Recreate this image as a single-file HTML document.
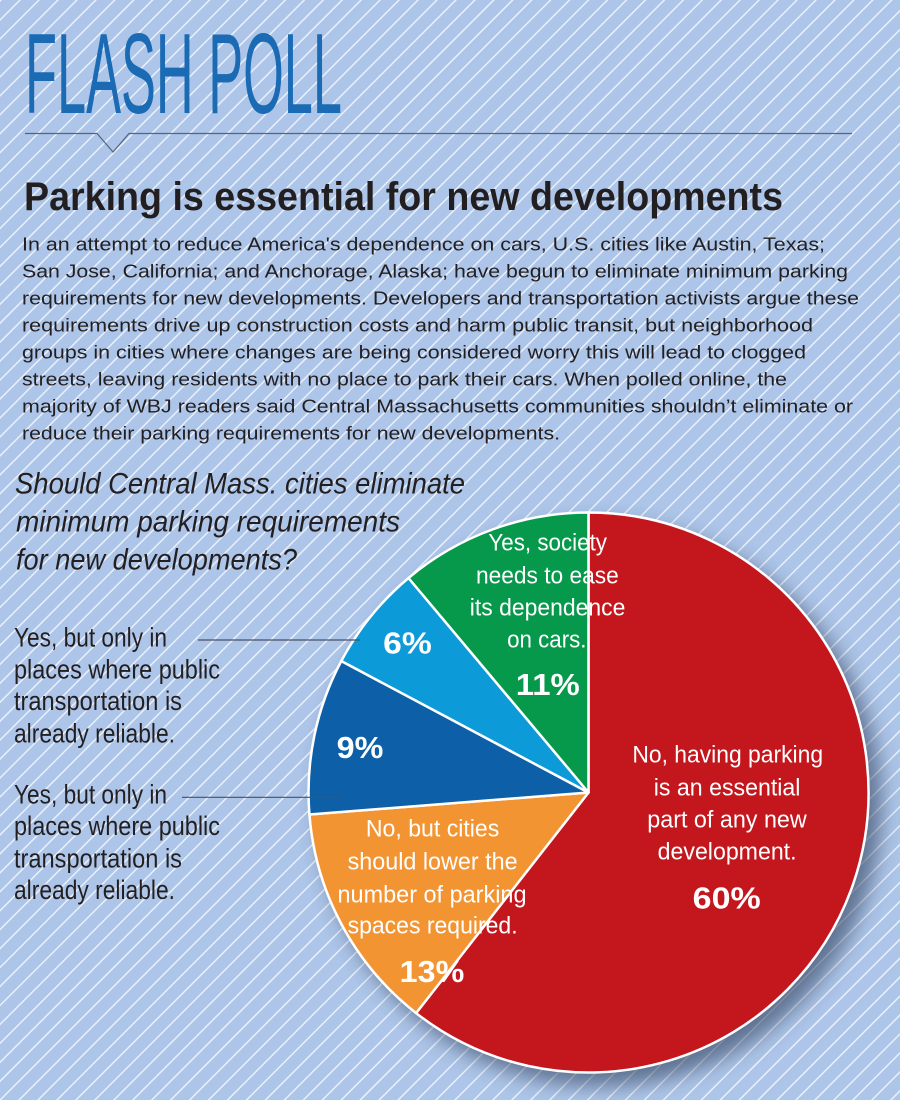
<!DOCTYPE html>
<html>
<head>
<meta charset="utf-8">
<style>
  html,body{margin:0;padding:0;background:#adc5e8;}
  svg{display:block;}
</style>
</head>
<body>
<svg width="900" height="1100" viewBox="0 0 900 1100" xmlns="http://www.w3.org/2000/svg">
  <defs>
    <pattern id="stripes" patternUnits="userSpaceOnUse" width="13.4" height="20" patternTransform="rotate(45)">
      <rect x="0" y="0" width="13.4" height="20" fill="#adc5e8"/>
      <rect x="0" y="0" width="1.5" height="20" fill="#e9f0fb"/>
    </pattern>
    <filter id="shadow" x="-20%" y="-20%" width="140%" height="140%">
      <feGaussianBlur stdDeviation="10"/>
    </filter>
  </defs>

  <rect x="0" y="0" width="900" height="1100" fill="url(#stripes)"/>

  <!-- Title -->
  <text x="25" y="113" font-family="'Liberation Sans Narrow','Liberation Sans',sans-serif" font-size="114" fill="#1a6ab4" textLength="317" lengthAdjust="spacingAndGlyphs">FLASH POLL</text>

  <!-- Rule with notch -->
  <polyline points="25,133.5 97,133.5 113,152 129,133.5 852,133.5" fill="none" stroke="#56657a" stroke-width="1.2"/>

  <!-- Heading -->
  <text x="24" y="210" font-family="'Liberation Sans Narrow','Liberation Sans',sans-serif" font-weight="bold" font-size="40" fill="#231f20" textLength="759" lengthAdjust="spacingAndGlyphs">Parking is essential for new developments</text>

  <!-- Paragraph -->
  <g font-family="'Liberation Sans',sans-serif" font-size="18" fill="#231f20">
    <text x="22" y="250.7" textLength="803" lengthAdjust="spacingAndGlyphs">In an attempt to reduce America's dependence on cars, U.S. cities like Austin, Texas;</text>
    <text x="22" y="277.7" textLength="826" lengthAdjust="spacingAndGlyphs">San Jose, California; and Anchorage, Alaska; have begun to eliminate minimum parking</text>
    <text x="22" y="304.7" textLength="837" lengthAdjust="spacingAndGlyphs">requirements for new developments. Developers and transportation activists argue these</text>
    <text x="22" y="331.7" textLength="791" lengthAdjust="spacingAndGlyphs">requirements drive up construction costs and harm public transit, but neighborhood</text>
    <text x="22" y="358.7" textLength="784" lengthAdjust="spacingAndGlyphs">groups in cities where changes are being considered worry this will lead to clogged</text>
    <text x="22" y="385.7" textLength="765" lengthAdjust="spacingAndGlyphs">streets, leaving residents with no place to park their cars. When polled online, the</text>
    <text x="22" y="412.7" textLength="831" lengthAdjust="spacingAndGlyphs">majority of WBJ readers said Central Massachusetts communities shouldn’t eliminate or</text>
    <text x="22" y="439.7" textLength="538" lengthAdjust="spacingAndGlyphs">reduce their parking requirements for new developments.</text>
  </g>

  <!-- Question -->
  <g font-family="'Liberation Sans Narrow','Liberation Sans',sans-serif" font-style="italic" font-size="30" fill="#231f20">
    <text x="15" y="493.3" textLength="450" lengthAdjust="spacingAndGlyphs">Should Central Mass. cities eliminate</text>
    <text x="16" y="531.5" textLength="384" lengthAdjust="spacingAndGlyphs">minimum parking requirements</text>
    <text x="16" y="569.5" textLength="281" lengthAdjust="spacingAndGlyphs">for new developments?</text>
  </g>

  <!-- Pie shadow -->
  <circle cx="600" cy="805" r="281" fill="#2a3b58" opacity="0.6" filter="url(#shadow)"/>

  <!-- Pie slices -->
  <g stroke="#ffffff" stroke-width="2.5" stroke-linejoin="round">
    <path d="M588.5,792.5 L588.5,512.5 A280,280 0 1 1 416.1,1013.1 Z" fill="#c4161d"/>
    <path d="M588.5,792.5 L416.1,1013.1 A280,280 0 0 1 309.4,814.5 Z" fill="#f39433"/>
    <path d="M588.5,792.5 L309.4,814.5 A280,280 0 0 1 341.3,661.0 Z" fill="#0d60a8"/>
    <path d="M588.5,792.5 L341.3,661.0 A280,280 0 0 1 408.5,578.0 Z" fill="#0c9ad9"/>
    <path d="M588.5,792.5 L408.5,578.0 A280,280 0 0 1 588.5,512.5 Z" fill="#06994b"/>
  </g>

  <!-- Leader lines -->
  <line x1="198" y1="640" x2="360" y2="640" stroke="#4a5263" stroke-width="1.2"/>
  <line x1="182" y1="797.3" x2="343" y2="797.3" stroke="#4a5263" stroke-width="1.2"/>

  <!-- Left labels -->
  <g font-family="'Liberation Sans Narrow','Liberation Sans',sans-serif" font-size="27" fill="#231f20">
    <text x="14" y="646.7" textLength="153" lengthAdjust="spacingAndGlyphs">Yes, but only in</text>
    <text x="14" y="678.3" textLength="206" lengthAdjust="spacingAndGlyphs">places where public</text>
    <text x="14" y="710" textLength="168" lengthAdjust="spacingAndGlyphs">transportation is</text>
    <text x="14" y="742.7" textLength="161" lengthAdjust="spacingAndGlyphs">already reliable.</text>

    <text x="14" y="803.3" textLength="153" lengthAdjust="spacingAndGlyphs">Yes, but only in</text>
    <text x="14" y="835" textLength="206" lengthAdjust="spacingAndGlyphs">places where public</text>
    <text x="14" y="867.3" textLength="168" lengthAdjust="spacingAndGlyphs">transportation is</text>
    <text x="14" y="899" textLength="161" lengthAdjust="spacingAndGlyphs">already reliable.</text>
  </g>

  <!-- Pie labels -->
  <g font-family="'Liberation Sans Narrow','Liberation Sans',sans-serif" font-size="24" fill="#ffffff" text-anchor="middle">
    <text x="547.7" y="550.3" textLength="118.6" lengthAdjust="spacingAndGlyphs">Yes, society</text>
    <text x="547.4" y="583.4" textLength="142.8" lengthAdjust="spacingAndGlyphs">needs to ease</text>
    <text x="547.6" y="615.3" textLength="155.6" lengthAdjust="spacingAndGlyphs">its dependence</text>
    <text x="546.8" y="647.6" textLength="79.4" lengthAdjust="spacingAndGlyphs">on cars.</text>

    <text x="432.6" y="836.3" textLength="133.4" lengthAdjust="spacingAndGlyphs">No, but cities</text>
    <text x="432.6" y="869.4" textLength="170" lengthAdjust="spacingAndGlyphs">should lower the</text>
    <text x="432" y="902.5" textLength="189" lengthAdjust="spacingAndGlyphs">number of parking</text>
    <text x="432.6" y="933.6" textLength="170" lengthAdjust="spacingAndGlyphs">spaces required.</text>

    <text x="727.7" y="762.4" textLength="190.7" lengthAdjust="spacingAndGlyphs">No, having parking</text>
    <text x="727.1" y="795.4" textLength="146.7" lengthAdjust="spacingAndGlyphs">is an essential</text>
    <text x="727" y="827.7" textLength="159.5" lengthAdjust="spacingAndGlyphs">part of any new</text>
    <text x="727.1" y="859.6" textLength="138.9" lengthAdjust="spacingAndGlyphs">development.</text>
  </g>

  <g font-family="'Liberation Sans Narrow','Liberation Sans',sans-serif" font-size="31" font-weight="bold" fill="#ffffff" text-anchor="middle">
    <text x="726.7" y="908.3" textLength="68" lengthAdjust="spacingAndGlyphs">60%</text>
    <text x="547.8" y="695" textLength="64" lengthAdjust="spacingAndGlyphs">11%</text>
    <text x="432" y="982" textLength="64.6" lengthAdjust="spacingAndGlyphs">13%</text>
    <text x="407.5" y="653.4" textLength="48.6" lengthAdjust="spacingAndGlyphs">6%</text>
    <text x="360" y="757.8" textLength="46.7" lengthAdjust="spacingAndGlyphs">9%</text>
  </g>
</svg>
</body>
</html>
